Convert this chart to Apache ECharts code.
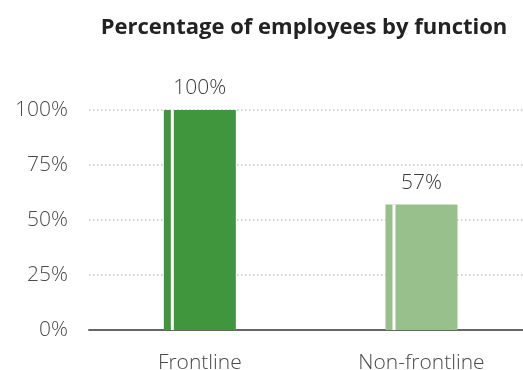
<!DOCTYPE html>
<html>
<head>
<meta charset="utf-8">
<script src="https://cdn.jsdelivr.net/npm/echarts@6/dist/echarts.min.js"></script>
<style>
  html, body { margin: 0; padding: 0; background: #ffffff; }
  #chart { width: 523px; height: 370px; }
</style>
</head>
<body>
<div id="chart"></div>
<script>
// Share of employees in each function
const categories = ['Frontline', 'Non-frontline'];
const percentages = [100, 57];
const barColors = ['#40963c', '#98c08c'];
const yTicks = [0, 25, 50, 75, 100];

const FONT = '"Open Sans", Roboto, sans-serif';
const LABEL_SIZE = 21;
const BAR_W = 72;      // bar width in px
const STRIPE_X = 7;    // white stripe offset from the bar's left edge
const STRIPE_W = 3;

const chart = echarts.init(document.getElementById('chart'), null, { renderer: 'canvas' });

// x runs along a value axis so the last slot may run past the right edge
chart.setOption({
  backgroundColor: '#ffffff',
  animation: false,
  title: {
    text: 'Percentage of employees by function',
    left: 299,
    top: 12,
    textAlign: 'center',
    textStyle: { fontFamily: FONT, fontSize: 22, fontWeight: 'bold', color: '#222222' }
  },
  grid: { left: 89, top: 110, right: 0, height: 220, outerBoundsMode: 'none', containLabel: false },
  xAxis: {
    type: 'value',
    min: -0.5,
    max: 1.458,
    axisLine: { show: true, onZero: false, lineStyle: { color: '#666666', width: 2 } },
    axisTick: { show: false },
    splitLine: { show: false },
    axisLabel: {
      customValues: categories.map((c, i) => i),
      formatter: function (v) { return categories[Math.round(v)]; },
      fontFamily: FONT, fontSize: LABEL_SIZE, fontWeight: 300, color: '#4a4a4a', margin: 23
    }
  },
  yAxis: {
    type: 'value',
    min: yTicks[0],
    max: yTicks[yTicks.length - 1],
    interval: yTicks[1] - yTicks[0],
    axisLine: { show: false },
    axisTick: { show: false },
    axisLabel: {
      formatter: '{value}%',
      fontFamily: FONT, fontSize: LABEL_SIZE, fontWeight: 300, color: '#4a4a4a', margin: 21
    },
    splitLine: { show: true, lineStyle: { color: '#c4c4c4', width: 1.5, type: [1.5, 2.5] } }
  },
  series: [{
    type: 'custom',
    data: percentages.map((v, i) => [i, v]),
    renderItem: function (params, api) {
      const i = api.value(0);
      const v = api.value(1);
      const top = api.coord([i, v]);
      const base = api.coord([i, 0]);
      const x0 = top[0] - BAR_W / 2;
      const h = base[1] - top[1];
      return {
        type: 'group',
        children: [
          { type: 'rect', shape: { x: x0, y: top[1], width: BAR_W, height: h },
            style: { fill: barColors[i] } },
          { type: 'rect', shape: { x: x0 + STRIPE_X, y: top[1], width: STRIPE_W, height: h },
            style: { fill: '#ffffff' } },
          { type: 'text', x: top[0], y: top[1] - 11,
            style: { text: v + '%', fontFamily: FONT, fontSize: LABEL_SIZE, fontWeight: 300,
                     fill: '#3a3a3a', align: 'center', verticalAlign: 'bottom' } }
        ]
      };
    }
  }]
});
</script>
</body>
</html>
